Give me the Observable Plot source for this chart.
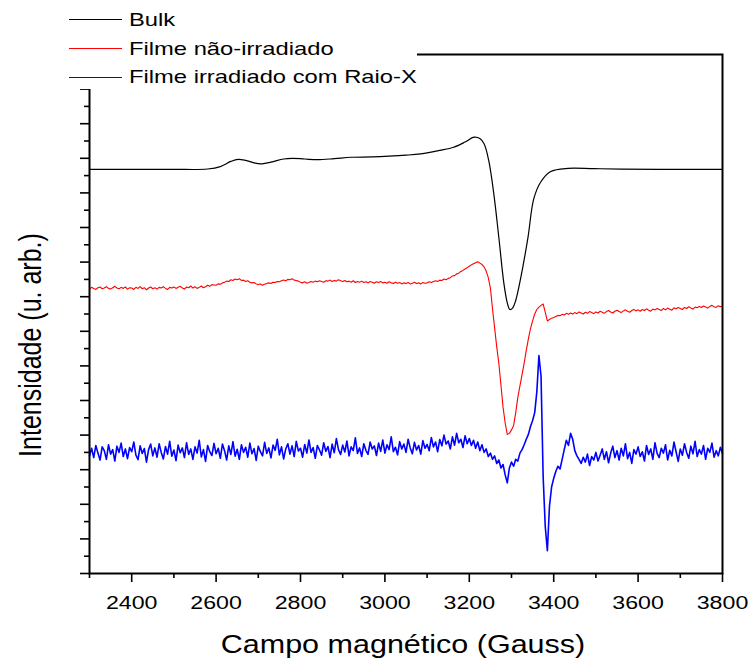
<!DOCTYPE html>
<html>
<head>
<meta charset="utf-8">
<script src="https://cdn.jsdelivr.net/npm/d3@7"></script>
<script src="https://cdn.jsdelivr.net/npm/@observablehq/plot@0.6"></script>
<style>
  html, body { margin: 0; padding: 0; background: #fff; }
  #wrap { position: relative; width: 751px; height: 661px; overflow: hidden; font-family: 'Liberation Sans', Arial, sans-serif; color: #000; }
  #wrap svg.chart { position: absolute; left: 0; top: 0; }
  .ov { position: absolute; white-space: nowrap; }
</style>
</head>
<body>
<div id="wrap"></div>
<script>
// ---------------- data ----------------
const seriesNames = ["Bulk", "Filme não-irradiado", "Filme irradiado com Raio-X"];
const seriesColors = ["#000000", "#ff0000", "#0000ff"];

const xMajorTicks = [2400, 2600, 2800, 3000, 3200, 3400, 3600, 3800];
const xMinorTicks = [2300, 2500, 2700, 2900, 3100, 3300, 3500, 3700];
const yMajorTicks = [0, 1, 2, 3, 4, 5, 6, 7, 8, 9, 10, 11, 12, 13, 14, 15];
const yMinorTicks = [0.5, 1.5, 2.5, 3.5, 4.5, 5.5, 6.5, 7.5, 8.5, 9.5, 10.5, 11.5, 12.5, 13.5, 14.5];

// Bulk (smooth)
const bulkField = [2300,2400,2500,2580,2610,2635,2652,2670,2690,2705,2730,2760,2780,2810,2840,2880,2920,2970,3010,3050,3085,3130,3163,3190,3211,3225,3235,3246,3258,3270,3282,3290,3296,3303,3310,3322,3339,3353,3370,3393,3434,3495,3560,3650,3800];
const bulkIntensity = [11.68,11.68,11.68,11.69,11.76,11.91,11.97,11.94,11.87,11.84,11.89,11.98,12.00,11.98,11.96,11.99,12.03,12.04,12.06,12.09,12.13,12.23,12.32,12.47,12.61,12.57,12.42,11.94,10.98,9.71,8.38,7.82,7.63,7.68,7.89,8.55,9.71,10.84,11.33,11.62,11.71,11.70,11.69,11.68,11.68];

// sampled spectra: field 2300 .. 3800 G, step 5 G
const sampleStart = 2300, sampleStep = 5;
const filmeNaoIrradiado = [
  8.22,8.27,8.24,8.21,8.26,8.28,8.23,8.25,8.29,8.24,
  8.22,8.26,8.30,8.25,8.23,8.27,8.24,8.28,8.22,8.26,
  8.25,8.21,8.27,8.24,8.29,8.23,8.26,8.20,8.25,8.28,
  8.23,8.26,8.22,8.27,8.25,8.29,8.24,8.21,8.27,8.25,
  8.28,8.24,8.27,8.30,8.25,8.22,8.28,8.26,8.31,8.25,
  8.29,8.24,8.27,8.31,8.26,8.29,8.33,8.30,8.35,8.34,
  8.33,8.37,8.36,8.40,8.42,8.45,8.44,8.49,8.47,8.51,
  8.49,8.52,8.47,8.48,8.44,8.46,8.42,8.40,8.41,8.37,
  8.35,8.37,8.33,8.36,8.38,8.40,8.38,8.42,8.41,8.44,
  8.43,8.46,8.48,8.46,8.50,8.49,8.52,8.48,8.47,8.45,
  8.42,8.40,8.43,8.39,8.41,8.44,8.42,8.45,8.43,8.46,
  8.44,8.42,8.46,8.45,8.48,8.44,8.47,8.45,8.49,8.46,
  8.44,8.47,8.43,8.45,8.42,8.46,8.41,8.44,8.42,8.45,
  8.41,8.43,8.40,8.44,8.42,8.39,8.43,8.41,8.44,8.40,
  8.42,8.39,8.43,8.40,8.38,8.42,8.39,8.41,8.37,8.40,
  8.38,8.41,8.37,8.39,8.42,8.38,8.40,8.37,8.41,8.39,
  8.40,8.43,8.41,8.44,8.46,8.44,8.48,8.47,8.51,8.49,
  8.53,8.55,8.60,8.61,8.66,8.68,8.73,8.76,8.80,8.84,
  8.88,8.92,8.95,8.98,9.01,8.97,8.93,8.86,8.74,8.55,
  8.25,7.65,7.10,6.55,6.07,5.45,4.80,4.35,4.02,4.05,
  4.15,4.28,4.65,5.09,5.42,5.75,6.08,6.45,6.78,7.08,
  7.30,7.50,7.63,7.70,7.75,7.79,7.55,7.30,7.34,7.38,
  7.40,7.43,7.46,7.45,7.49,7.47,7.52,7.49,7.53,7.50,
  7.54,7.51,7.56,7.53,7.50,7.55,7.52,7.57,7.54,7.51,
  7.56,7.53,7.58,7.55,7.52,7.57,7.60,7.56,7.53,7.58,
  7.61,7.57,7.54,7.59,7.62,7.58,7.55,7.60,7.63,7.59,
  7.62,7.58,7.63,7.60,7.65,7.61,7.58,7.64,7.62,7.66,
  7.63,7.60,7.66,7.62,7.67,7.64,7.61,7.68,7.65,7.69,
  7.66,7.63,7.69,7.66,7.71,7.67,7.64,7.70,7.68,7.72,
  7.69,7.73,7.70,7.67,7.72,7.75,7.71,7.69,7.74,7.71,
  7.73
];
const filmeIrradiadoRaioX = [
  3.40,3.62,3.35,3.70,3.48,3.28,3.66,3.55,3.30,3.72,
  3.45,3.58,3.25,3.68,3.50,3.77,3.38,3.60,3.32,3.64,
  3.52,3.80,3.42,3.29,3.69,3.47,3.61,3.22,3.58,3.74,
  3.40,3.63,3.36,3.75,3.50,3.31,3.67,3.45,3.82,3.39,
  3.57,3.26,3.71,3.49,3.63,3.35,3.78,3.44,3.60,3.30,
  3.66,3.48,3.85,3.37,3.58,3.24,3.70,3.52,3.41,3.76,
  3.46,3.62,3.33,3.74,3.55,3.28,3.69,3.44,3.81,3.39,
  3.59,3.30,3.72,3.50,3.65,3.36,3.77,3.46,3.61,3.27,
  3.68,3.52,3.40,3.79,3.47,3.63,3.34,3.71,3.56,3.88,
  3.43,3.66,3.31,3.60,3.75,3.45,3.69,3.38,3.82,3.54,
  3.62,3.36,3.73,3.48,3.86,3.50,3.64,3.33,3.70,3.57,
  3.42,3.78,3.53,3.67,3.35,3.74,3.49,3.90,3.58,3.44,
  3.71,3.51,3.83,3.40,3.66,3.55,3.92,3.47,3.63,3.38,
  3.75,3.56,3.44,3.80,3.60,3.69,3.41,3.77,3.53,3.86,
  3.48,3.72,3.58,3.95,3.52,3.65,3.43,3.81,3.60,3.74,
  3.50,3.88,3.63,3.46,3.79,3.57,3.70,3.45,3.84,3.62,
  3.73,3.55,3.93,3.66,3.80,3.52,3.87,3.69,4.00,3.74,
  3.83,3.60,3.95,3.71,4.05,3.78,3.88,3.64,3.98,3.75,
  3.90,3.70,3.85,3.62,3.80,3.55,3.72,3.50,3.60,3.38,
  3.48,3.30,3.40,3.18,3.28,3.05,3.15,2.85,2.62,3.05,
  3.22,3.10,3.30,3.25,3.48,3.58,3.72,3.88,4.02,4.25,
  4.42,4.65,5.25,6.30,5.70,2.80,1.35,0.66,1.95,2.50,
  2.75,2.95,3.10,3.02,3.30,3.58,3.85,3.70,4.05,3.88,
  3.55,3.40,3.30,3.18,3.36,3.22,3.45,3.12,3.38,3.28,
  3.50,3.25,3.42,3.60,3.30,3.52,3.20,3.48,3.68,3.35,
  3.55,3.28,3.62,3.40,3.75,3.32,3.50,3.18,3.58,3.45,
  3.66,3.38,3.52,3.25,3.70,3.44,3.60,3.30,3.78,3.47,
  3.35,3.62,3.48,3.72,3.28,3.56,3.40,3.80,3.52,3.24,
  3.60,3.42,3.75,3.50,3.33,3.68,3.46,3.82,3.38,3.58,
  3.45,3.70,3.30,3.62,3.50,3.77,3.36,3.55,3.40,3.65,
  3.47
];

// ---------------- build rows ----------------
const bulkRows = bulkField.map((g, i) => ({field: g, intensity: bulkIntensity[i]}));
const sampled = arr => arr.map((v, i) => ({field: sampleStart + i * sampleStep, intensity: v}));
const naoRows = sampled(filmeNaoIrradiado);
const irrRows = sampled(filmeIrradiadoRaioX);

const stretch = 1.22; // reference text is horizontally widened

const chart = Plot.plot({
  width: 751,
  height: 661,
  marginLeft: 89,
  marginRight: 29,
  marginTop: 54,
  marginBottom: 88,
  className: "chart",
  x: {domain: [2300, 3800]},
  y: {domain: [0, 15]},
  style: {fontFamily: "'Liberation Sans', Arial, sans-serif", fontSize: "19px", color: "#000", background: "transparent", overflow: "visible"},
  marks: [
    Plot.axisX({ticks: xMinorTicks, tickSize: 5, tickFormat: () => "", label: null, strokeWidth: 1.6}),
    Plot.axisX({ticks: xMajorTicks, tickSize: 9, tickPadding: 13, tickFormat: d => String(d), label: null, strokeWidth: 1.6}),
    Plot.axisY({ticks: yMinorTicks, tickSize: 5, tickFormat: () => "", label: null, strokeWidth: 1.6}),
    Plot.axisY({ticks: yMajorTicks, tickSize: 9, tickFormat: () => "", label: null, strokeWidth: 1.6}),
    Plot.line(bulkRows, {x: "field", y: "intensity", stroke: seriesColors[0], strokeWidth: 1.2, curve: "catmull-rom"}),
    Plot.line(naoRows, {x: "field", y: "intensity", stroke: seriesColors[1], strokeWidth: 1.1}),
    Plot.line(irrRows, {x: "field", y: "intensity", stroke: seriesColors[2], strokeWidth: 1.6}),
    Plot.frame({stroke: "#000", strokeWidth: 2})
  ]
});
chart.classList.add("chart");

const wrap = document.getElementById("wrap");
wrap.appendChild(chart);

// widen tick label glyphs like the reference (about each label's own centre)
chart.querySelectorAll('[aria-label="x-axis tick label"] text').forEach(t => {
  if (!t.textContent) return;
  const b = t.getBBox();
  const cx = b.x + b.width / 2;
  const tr = t.getAttribute("transform") || "";
  t.setAttribute("transform", `${tr} translate(${cx},0) scale(${stretch},1) translate(${-cx},0)`);
});

// legend box (covers the top-left of the frame, as in the reference)
const box = document.createElement("div");
box.className = "ov";
Object.assign(box.style, {left: "0px", top: "0px", width: "417px", height: "89px", background: "#fff"});
wrap.appendChild(box);

const rowLineY = [19, 48, 77];
const rowTextTop = [10, 39, 67];
const svgNS = "http://www.w3.org/2000/svg";
seriesNames.forEach((name, i) => {
  const s = document.createElementNS(svgNS, "svg");
  s.setAttribute("width", "56");
  s.setAttribute("height", "6");
  s.setAttribute("class", "ov");
  s.style.left = "68px";
  s.style.top = (rowLineY[i] - 3) + "px";
  const l = document.createElementNS(svgNS, "line");
  l.setAttribute("x1", "1"); l.setAttribute("x2", "54");
  l.setAttribute("y1", "3.5"); l.setAttribute("y2", "3.5");
  l.setAttribute("stroke", seriesColors[i]);
  l.setAttribute("stroke-width", "1.2");
  s.appendChild(l);
  wrap.appendChild(s);
  const tx = document.createElement("div");
  tx.className = "ov";
  tx.textContent = name;
  Object.assign(tx.style, {left: "129px", top: rowTextTop[i] + "px", fontSize: "19px", lineHeight: "19px", transform: `scaleX(1.25)`, transformOrigin: "0 50%"});
  wrap.appendChild(tx);
});

// axis titles
const xt = document.createElement("div");
xt.className = "ov";
xt.textContent = "Campo magnético (Gauss)";
Object.assign(xt.style, {left: "103px", width: "600px", textAlign: "center", top: "632px", fontSize: "25px", lineHeight: "25px", transform: `scaleX(${stretch})`, transformOrigin: "50% 50%"});
wrap.appendChild(xt);

const yt = document.createElement("div");
yt.className = "ov";
yt.textContent = "Intensidade (u. arb.)";
Object.assign(yt.style, {left: (30 - 150) + "px", top: (345 - 15) + "px", width: "300px", height: "30px", lineHeight: "30px", textAlign: "center", fontSize: "25px", transform: `rotate(-90deg) scaleY(${stretch})`, transformOrigin: "50% 50%"});
wrap.appendChild(yt);
</script>
</body>
</html>
